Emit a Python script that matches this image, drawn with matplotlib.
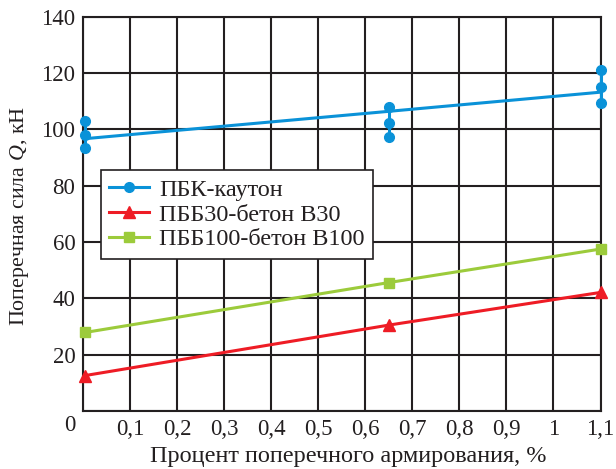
import matplotlib
matplotlib.use("Agg")
import matplotlib.pyplot as plt
from matplotlib.lines import Line2D

plt.rcParams['font.family'] = ['Liberation Serif', 'DejaVu Serif']
plt.rcParams['mathtext.fontset'] = 'custom'
plt.rcParams['mathtext.rm'] = 'Liberation Serif'
plt.rcParams['mathtext.it'] = 'Liberation Serif:italic'

# Data
x_pos = [0.005, 0.65, 1.1]
pbk_points = [[102.8, 97.9, 93.4], [107.8, 102.3, 97.2], [121.0, 115.2, 109.5]]
pbk_fit = [96.7, 106.4, 113.2]
pbb30 = [12.6, 30.5, 42.1]
pbb100 = [27.9, 45.6, 57.5]
labels = ['ПБК-каутон', 'ПББ30-бетон В30', 'ПББ100-бетон В100']
x_ticks = [0.1, 0.2, 0.3, 0.4, 0.5, 0.6, 0.7, 0.8, 0.9, 1.0, 1.1]
x_ticklabels = ['0,1', '0,2', '0,3', '0,4', '0,5', '0,6', '0,7', '0,8', '0,9', '1', '1,1']
y_ticks = [20, 40, 60, 80, 100, 120, 140]

c_blue = '#0a92d8'
c_red = '#ee1c25'
c_green = '#9ccb3b'
c_ink = '#231f20'

W, H = 616, 469
fig = plt.figure(figsize=(6.16, 4.69), dpi=100)
ax_l, ax_r, ax_t, ax_b = 83, 600.5, 16.7, 411
ax = fig.add_axes([ax_l / W, 1 - ax_b / H, (ax_r - ax_l) / W, (ax_b - ax_t) / H])

ax.set_xlim(0, 1.1)
ax.set_ylim(0, 140)
ax.set_xticks([0] + x_ticks)
ax.set_xticklabels([''] + x_ticklabels)
ax.set_yticks([0] + y_ticks)
ax.set_yticklabels([''] + [str(v) for v in y_ticks])
ax.tick_params(length=0, labelsize=16.5, colors=c_ink)
ax.tick_params(axis='x', pad=6)
ax.tick_params(axis='y', pad=5.5)
ax.grid(True, color=c_ink, linewidth=1.5)
ax.set_axisbelow(True)
for s in ax.spines.values():
    s.set_color(c_ink)
    s.set_linewidth(1.5)
    s.set_zorder(0.5)

fig.text(70 / W, 1 - 425 / H, '0', ha='center', va='center', fontsize=16.5, color=c_ink)

lw = 2.2
ax.plot(x_pos, pbk_fit, color=c_blue, lw=lw, zorder=3)
for x, pts in zip(x_pos, pbk_points):
    ax.plot([x] * len(pts), pts, color=c_blue, lw=lw, marker='o', ms=7,
            zorder=4, clip_on=False)
ax.plot(x_pos, pbb30, color=c_red, lw=lw, marker='^', ms=8, zorder=4, clip_on=False)
ax.plot(x_pos, pbb100, color=c_green, lw=lw, marker='s', ms=7, zorder=4, clip_on=False)

handles = [
    Line2D([], [], color=c_blue, lw=lw, marker='o', ms=7),
    Line2D([], [], color=c_red, lw=lw, marker='^', ms=8),
    Line2D([], [], color=c_green, lw=lw, marker='s', ms=7),
]
leg = ax.legend(handles, labels, loc='upper left', bbox_to_anchor=(0.034, 0.611),
                borderaxespad=0, fancybox=False, edgecolor=c_ink, framealpha=1,
                fontsize=17.5, handlelength=1.65, handletextpad=0.4, labelspacing=0.12,
                borderpad=0.35)
leg.get_frame().set_linewidth(1.2)
leg.set_zorder(5)
for t in leg.get_texts():
    t.set_color(c_ink)

fig.text(348 / W, 1 - 456 / H, 'Процент поперечного армирования, %', fontsize=17.5,
         color=c_ink, ha='center', va='center')
fig.text(20 / W, 1 - 216 / H, 'Поперечная сила $Q$, кН', fontsize=15.8,
         color=c_ink, ha='center', va='center', rotation=90)

fig.savefig('out.png', dpi=100)
